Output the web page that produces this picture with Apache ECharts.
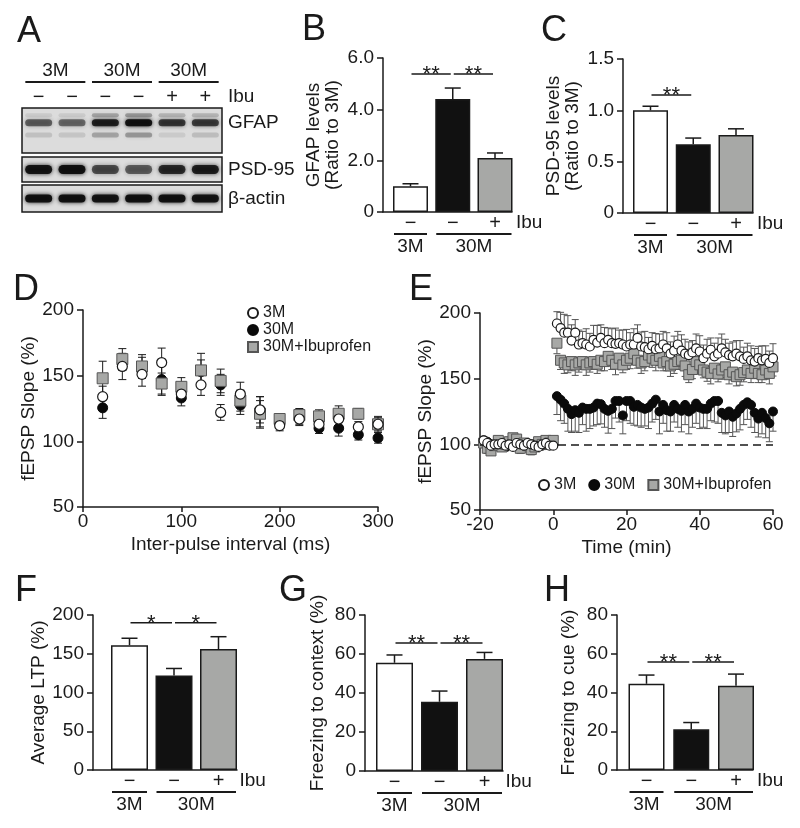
<!DOCTYPE html>
<html><head><meta charset="utf-8">
<script src="https://cdn.jsdelivr.net/npm/echarts@6/dist/echarts.min.js"></script>
<style>html,body{margin:0;padding:0;background:#fff}#c{width:800px;height:828px}</style>
</head><body><div id="c"></div>
<script>
// ================= DATA =================
// Bar panels (categories: 3M, 30M, 30M+Ibu)
const barGroups = ['3M', '30M'];
const ibuSigns = ['−', '−', '+'];
const gfapMean = [1.0, 4.4, 2.1];
const gfapSem  = [0.1, 0.43, 0.2];
const psdMean  = [1.0, 0.67, 0.76];
const psdSem   = [0.04, 0.06, 0.06];
const ltpMean  = [161, 122, 156];
const ltpSem   = [9, 9, 16];
const ctxMean  = [55.5, 35.5, 57.5];
const ctxSem   = [4, 5.5, 3.3];
const cueMean  = [44.5, 21, 43.5];
const cueSem   = [4.5, 3.5, 6];

// Western blot (6 lanes) band intensities
const lanes = ['3M-a', '3M-b', '30M-a', '30M-b', '30M+Ibu-a', '30M+Ibu-b'];
const laneGroups = ['3M', '30M', '30M'];
const laneSigns = ['−', '−', '−', '−', '+', '+'];
const gfapMainBand  = [0.55, 0.5, 0.85, 0.95, 0.72, 0.7];
const gfapUpperBand = [0.08, 0.08, 0.25, 0.3, 0.18, 0.18];
const gfapLowerBand = [0.12, 0.1, 0.25, 0.3, 0.08, 0.14];
const psd95Band = [0.92, 0.95, 0.62, 0.55, 0.78, 0.85];
const actinBand = [0.95, 0.95, 0.92, 0.95, 0.95, 0.92];

// Panel D: paired-pulse facilitation
const dInterval = [20, 40, 60, 80, 100, 120, 140, 160, 180, 200, 220, 240, 260, 280, 300];
const d3M     = [134, 157, 151, 160, 136, 143, 122, 136, 124, 112, 117, 113, 117, 111, 113];
const d3MErr  = [8, 10, 9, 11, 5, 8, 6, 9, 10, 4, 5, 5, 5, 4, 6];
const d30M    = [125.5, 160, 156, 147, 133, 153, 143, 127.5, 122, 114, 118, 110, 110, 105, 102.6];
const d30MErr = [8, 6, 8, 12, 6, 9, 8, 7, 12, 4, 5, 4, 6, 4, 4];
const dIbu    = [148, 162.6, 157, 144, 141.5, 154, 146, 131, 121, 117, 120, 119, 121, 121, 113];
const dIbuErr = [13, 8, 9, 8, 7, 13, 9, 8, 10, 4, 5, 5, 6, 4, 5];

// Panel E: LTP time course
const eTime = [-19,-18,-17,-16,-15,-14,-13,-12,-11,-10,-9,-8,-7,-6,-5,-4,-3,-2,-1,0,
  1,2,3,4,5,6,7,8,9,10,11,12,13,14,15,16,17,18,19,20,21,22,23,24,25,26,27,28,29,30,
  31,32,33,34,35,36,37,38,39,40,41,42,43,44,45,46,47,48,49,50,51,52,53,54,55,56,57,58,59,60];
const e3M = [103,101,99,100,100,101,99,100,98,101,100,99,101,100,99,98,100,101,99,99,
  192,188.5,185,185,179,185,176,177,176,174.5,179.6,177.5,181,177,179.6,177,176.5,177,176,174.5,
  176,176,181,174.5,174,172.4,175,172.4,173,176,173,169,171.4,176,171.4,169,168,170,173,170.7,
  165.6,169,172,167,169,173,170,168,167,169,167,165,167,164,163,165.6,164,165,162,165.6];
const e3MErr = [3,3,2,3,3,2,3,3,2,3,3,3,2,3,3,2,3,3,2,3,
  9,12,14,13,12,10,11,9,12,10,11,13,10,12,9,11,12,10,11,13,
  9,12,10,11,12,9,10,12,11,10,12,9,11,10,12,11,10,9,11,12,
  10,11,9,10,12,11,10,9,11,10,12,9,10,11,10,9,11,10,9,11];
const e30M = [103,102,100,99,101,100,98,100,101,100,99,101,99,100,100,101,99,100,101,100,
  136.7,134,131,127,123,126,124,128,127,127,128,131,130.6,127,125.5,127,133,133,122,133,
  133,128.6,130,128,127,128,131,134,125,130,126,125,130,127,125.5,130,125,127,131,128,
  127,127,131,133,133,124,122,125,121,123.5,127,130,132,130,124,119.6,124,120,116,125];
const e30MErr = [3,2,3,3,2,3,3,2,3,3,2,3,3,2,3,3,2,3,3,2,
  14,16,15,17,14,16,15,13,17,15,14,16,15,14,17,15,13,16,14,15,
  17,14,16,15,13,16,14,15,17,14,16,15,13,14,16,15,17,14,15,16,
  14,15,13,16,17,15,14,16,15,14,16,15,13,17,15,14,16,15,14,15];
const eIbu = [101,97,95,99,103,98,100,102,105,104,97,101,99,96,98,102,100,103,101,103,
  177,164,162,160.5,163,160.5,162,163,160.5,162,163,161,164,163,167,164,161,165.6,160.5,164,
  165.6,169,164,162,163,168,165.6,164,167,162,163,159.7,161,163,164,159.7,153,157,163,160.5,
  156.6,155,154,158,153.6,156.6,159,153,155,151.5,153,154.6,156.6,154,158,154,153,156.6,154,159];
const eIbuErr = [3,4,3,3,4,3,3,4,3,3,4,3,3,4,3,3,4,3,3,4,
  8,7,8,6,7,8,7,6,8,7,6,7,8,7,6,7,8,7,6,7,
  8,7,6,8,7,6,7,8,7,6,7,8,7,6,7,8,6,7,8,7,
  6,7,8,7,6,7,8,7,6,7,8,7,6,7,8,7,6,7,8,7];

// ================= STYLE / LAYOUT =================
const FONT = "'Liberation Sans', Arial, Helvetica, sans-serif";
const INK = '#1a1a1a';
const GREY = '#a7a8a6';
const BAR_COLORS = ['#ffffff', '#111111', GREY];
const FS = 19;

const grids = [], xAxes = [], yAxes = [], series = [];

function axisLineStyle() { return { show: true, onZero: false, lineStyle: { color: INK, width: 1.5 } }; }
function txt(text, x, y, align, vAlign, size) {
  return { type: 'text', style: { text, x, y, align, verticalAlign: vAlign, textAlign: align, textVerticalAlign: vAlign,
    font: (size || FS) + 'px ' + FONT, fill: INK } };
}

function addBarPanel(p) {
  const gi = grids.length;
  grids.push({ left: p.axisX, top: p.top, width: p.end - p.axisX, height: p.bottom - p.top });
  xAxes.push({ gridIndex: gi, type: 'value', min: -(p.c0 - p.axisX) / p.step, max: (p.end - p.c0) / p.step,
    axisLine: axisLineStyle(), axisTick: { show: false }, axisLabel: { show: false }, splitLine: { show: false } });
  yAxes.push({ gridIndex: gi, type: 'value', min: 0, max: p.max, interval: p.interval,
    axisLine: axisLineStyle(), axisTick: { show: true, length: 6, lineStyle: { color: INK, width: 1.5 } },
    axisLabel: { fontSize: FS, color: INK, fontFamily: FONT, margin: 9, formatter: p.fmt },
    splitLine: { show: false }, name: p.name, nameLocation: 'middle', nameRotate: 90, nameGap: p.nameGap,
    nameTextStyle: { fontSize: FS, color: INK, fontFamily: FONT, lineHeight: 19 } });
  const ax = { xAxisIndex: gi, yAxisIndex: gi, silent: true };
  series.push(Object.assign({ type: 'bar', barWidth: p.barW, z: 2,
    data: p.mean.map((v, i) => ({ value: [i, v], itemStyle: { color: BAR_COLORS[i] } })),
    itemStyle: { borderColor: INK, borderWidth: 1.5 } }, ax));
  // error bars (upper)
  series.push(Object.assign({ type: 'custom', z: 3,
    data: p.mean.map((v, i) => [i, v, v + p.sem[i]]),
    renderItem: (params, api) => {
      const a = api.coord([api.value(0), api.value(1)]), b = api.coord([api.value(0), api.value(2)]);
      return { type: 'group', children: [
        { type: 'line', shape: { x1: a[0], y1: a[1], x2: b[0], y2: b[1] }, style: { stroke: INK, lineWidth: 1.5 } },
        { type: 'line', shape: { x1: b[0] - 8, y1: b[1], x2: b[0] + 8, y2: b[1] }, style: { stroke: INK, lineWidth: 1.5 } }] };
    } }, ax));
  // significance
  series.push(Object.assign({ type: 'custom', z: 3,
    data: p.sig.map(s => s.slice(0, 3)),
    renderItem: (params, api) => {
      const a = api.coord([api.value(0), api.value(2)]), b = api.coord([api.value(1), api.value(2)]);
      const x1 = a[0] + 1, x2 = b[0] - 2;
      return { type: 'group', children: [
        { type: 'line', shape: { x1, y1: a[1], x2, y2: a[1] }, style: { stroke: INK, lineWidth: 1.5 } },
        txt(p.sig[params.dataIndex][3], (x1 + x2) / 2, a[1] + 1, 'center', 'middle', 22)] };
    } }, ax));
  // treatment signs
  series.push(Object.assign({ type: 'custom', z: 3,
    data: ibuSigns.map((s, i) => [i]),
    renderItem: (params, api) => {
      const c = api.coord([api.value(0), 0]);
      const kids = [txt(ibuSigns[params.dataIndex], c[0], c[1] + 11, 'center', 'middle', 20)];
      if (params.dataIndex === ibuSigns.length - 1) kids.push(txt('Ibu', c[0] + 21, c[1] + 11, 'left', 'middle', FS));
      return { type: 'group', children: kids };
    } }, ax));
  // group underlines
  series.push(Object.assign({ type: 'custom', z: 3,
    data: [[0, 0], [1, 2]],
    renderItem: (params, api) => {
      const a = api.coord([api.value(0), 0]), b = api.coord([api.value(1), 0]);
      const y = a[1] + 22, hw = p.barW / 2 - 1;
      return { type: 'group', children: [
        { type: 'line', shape: { x1: a[0] - hw, y1: y, x2: b[0] + hw, y2: y }, style: { stroke: INK, lineWidth: 1.8 } },
        txt(barGroups[params.dataIndex], (a[0] + b[0]) / 2, y + 13, 'center', 'middle', FS)] };
    } }, ax));
}

const fmt1 = v => (v === 0 ? '0' : v.toFixed(1));
addBarPanel({ axisX: 383, end: 512, c0: 410.5, step: 42.25, top: 58, bottom: 212, barW: 35, max: 6, interval: 2, fmt: fmt1,
  mean: gfapMean, sem: gfapSem, sig: [[0, 1, 5.38, '**'], [1, 2, 5.38, '**']], name: 'GFAP levels\n(Ratio to 3M)', nameGap: 41 });
addBarPanel({ axisX: 623, end: 753, c0: 650.5, step: 42.75, top: 59, bottom: 213, barW: 35, max: 1.5, interval: 0.5, fmt: fmt1,
  mean: psdMean, sem: psdSem, sig: [[0, 1, 1.15, '**']], name: 'PSD-95 levels\n(Ratio to 3M)', nameGap: 41 });
addBarPanel({ axisX: 93, end: 237, c0: 129.5, step: 44.5, top: 615, bottom: 770, barW: 37, max: 200, interval: 50,
  mean: ltpMean, sem: ltpSem, sig: [[0, 1, 190, '*'], [1, 2, 190, '*']], name: 'Average LTP (%)', nameGap: 41 });
addBarPanel({ axisX: 365, end: 503, c0: 394.5, step: 45, top: 615, bottom: 771, barW: 37, max: 80, interval: 20,
  mean: ctxMean, sem: ctxSem, sig: [[0, 1, 65.6, '**'], [1, 2, 65.6, '**']], name: 'Freezing to context (%)', nameGap: 38 });
addBarPanel({ axisX: 617, end: 753, c0: 646.5, step: 44.75, top: 615, bottom: 770, barW: 36, max: 80, interval: 20,
  mean: cueMean, sem: cueSem, sig: [[0, 1, 55.7, '**'], [1, 2, 55.7, '**']], name: 'Freezing to cue (%)', nameGap: 39 });

// ----- Blot strips -----
function addBlot(p) {
  const gi = grids.length;
  grids.push({ left: 22, top: p.top, width: 200, height: p.h, show: true, backgroundColor: '#dcdcdc', borderColor: INK, borderWidth: 1.5 });
  xAxes.push({ gridIndex: gi, type: 'category', data: lanes, show: false });
  yAxes.push({ gridIndex: gi, type: 'value', min: 0, max: 1, show: false });
  const ax = { xAxisIndex: gi, yAxisIndex: gi, silent: true };
  p.bands.forEach(bd => {
    series.push(Object.assign({ type: 'custom', z: 2,
      data: bd.vals.map((v, i) => [i, bd.y, v]),
      renderItem: (params, api) => {
        const c = api.coord([api.value(0), api.value(1)]);
        const op = api.value(2), w = 27, h = bd.h;
        const kids = [{ type: 'rect', shape: { x: c[0] - w / 2, y: c[1] - h / 2, width: w, height: h, r: h / 2 },
          style: { fill: 'rgba(12,12,12,' + op + ')', shadowBlur: 4, shadowColor: 'rgba(12,12,12,' + op + ')' } }];
        if (bd.label && params.dataIndex === lanes.length - 1) kids.push(txt(bd.label, 228, c[1], 'left', 'middle', FS));
        return { type: 'group', children: kids };
      } }, ax));
  });
  if (p.header) {
    series.push(Object.assign({ type: 'custom', z: 3,
      data: [[0, 1], [2, 3], [4, 5]],
      renderItem: (params, api) => {
        const a = api.coord([api.value(0), 1]), b = api.coord([api.value(1), 1]);
        const m = (a[0] + b[0]) / 2, y = a[1] - 26;
        return { type: 'group', children: [
          { type: 'line', shape: { x1: m - 30, y1: y, x2: m + 30, y2: y }, style: { stroke: INK, lineWidth: 1.8 } },
          txt(laneGroups[params.dataIndex], m, y - 11, 'center', 'middle', FS)] };
      } }, ax));
    series.push(Object.assign({ type: 'custom', z: 3,
      data: laneSigns.map((s, i) => [i]),
      renderItem: (params, api) => {
        const c = api.coord([api.value(0), 1]);
        const kids = [txt(laneSigns[params.dataIndex], c[0], c[1] - 11, 'center', 'middle', 20)];
        if (params.dataIndex === lanes.length - 1) kids.push(txt('Ibu', 228, c[1] - 11, 'left', 'middle', FS));
        return { type: 'group', children: kids };
      } }, ax));
  }
}
addBlot({ top: 108, h: 45, header: true, bands: [
  { vals: gfapUpperBand, y: 0.84, h: 4 },
  { vals: gfapLowerBand, y: 0.4, h: 5 },
  { vals: gfapMainBand, y: 0.67, h: 7, label: 'GFAP' }] });
addBlot({ top: 157, h: 25, bands: [{ vals: psd95Band, y: 0.5, h: 9, label: 'PSD-95' }] });
addBlot({ top: 185, h: 27, bands: [{ vals: actinBand, y: 0.5, h: 8, label: 'β-actin' }] });

// ----- Scatter panels -----
const SYM = {
  '3M': { symbol: 'circle', itemStyle: { color: '#ffffff', borderColor: INK, borderWidth: 1.2, opacity: 1 } },
  '30M': { symbol: 'circle', itemStyle: { color: '#0a0a0a', borderColor: '#0a0a0a', borderWidth: 1, opacity: 1 } },
  '30M+Ibuprofen': { symbol: 'rect', itemStyle: { color: GREY, borderColor: '#555', borderWidth: 1, opacity: 1 } }
};
function addScatterPanel(p) {
  const gi = grids.length;
  grids.push({ left: p.left, top: p.top, width: p.width, height: p.height });
  xAxes.push({ gridIndex: gi, type: 'value', min: p.xmin, max: p.xmax, interval: p.xint,
    axisLine: axisLineStyle(), axisTick: { show: true, length: 5, lineStyle: { color: INK, width: 1.5 } },
    axisLabel: { fontSize: FS, color: INK, fontFamily: FONT, margin: 5 }, splitLine: { show: false },
    name: p.xname, nameLocation: 'middle', nameGap: 28, nameTextStyle: { fontSize: FS, color: INK, fontFamily: FONT } });
  yAxes.push({ gridIndex: gi, type: 'value', min: 50, max: 200, interval: 50,
    axisLine: axisLineStyle(), axisTick: { show: true, length: 6, lineStyle: { color: INK, width: 1.5 } },
    axisLabel: { fontSize: FS, color: INK, fontFamily: FONT, margin: 9 }, splitLine: { show: false },
    name: 'fEPSP Slope (%)', nameLocation: 'middle', nameRotate: 90, nameGap: 45,
    nameTextStyle: { fontSize: FS, color: INK, fontFamily: FONT } });
  const ax = { xAxisIndex: gi, yAxisIndex: gi, silent: true };
  p.sets.forEach((s, k) => {
    series.push(Object.assign({ type: 'custom', z: 2,
      data: p.x.map((x, i) => [x, s.v[i], s.v[i] + (s.dir >= 0 ? s.e[i] : 0), s.v[i] - (s.dir <= 0 ? s.e[i] : 0)]),
      renderItem: (params, api) => {
        const hi = api.coord([api.value(0), api.value(2)]), lo = api.coord([api.value(0), api.value(3)]);
        const kids = [{ type: 'line', shape: { x1: hi[0], y1: hi[1], x2: lo[0], y2: lo[1] }, style: { stroke: p.errColor, lineWidth: 1 } }];
        if (s.dir >= 0) kids.push({ type: 'line', shape: { x1: hi[0] - p.cap, y1: hi[1], x2: hi[0] + p.cap, y2: hi[1] }, style: { stroke: p.errColor, lineWidth: 1 } });
        if (s.dir <= 0) kids.push({ type: 'line', shape: { x1: lo[0] - p.cap, y1: lo[1], x2: lo[0] + p.cap, y2: lo[1] }, style: { stroke: p.errColor, lineWidth: 1 } });
        return { type: 'group', children: kids };
      } }, ax));
  });
  p.sets.forEach((s, k) => {
    const st = SYM[s.name];
    const ser = Object.assign({ type: 'scatter', name: s.name, z: 3 + s.order, symbol: st.symbol,
      symbolSize: s.name === '30M+Ibuprofen' ? p.size + 1 : p.size, itemStyle: st.itemStyle,
      data: p.x.map((x, i) => [x, s.v[i]]) }, ax);
    if (p.dashed && k === 0) ser.markLine = { silent: true, symbol: ['none', 'none'], label: { show: false },
      lineStyle: { type: [8, 5], color: INK, width: 1.5 }, data: [{ yAxis: 100 }] };
    series.push(ser);
  });
}
addScatterPanel({ left: 83, top: 310, width: 295, height: 197, xmin: 0, xmax: 300, xint: 100,
  xname: 'Inter-pulse interval (ms)', x: dInterval, size: 10, cap: 4, errColor: INK, sets: [
    { name: '30M', v: d30M, e: d30MErr, dir: 0, order: 0 },
    { name: '30M+Ibuprofen', v: dIbu, e: dIbuErr, dir: 0, order: 1 },
    { name: '3M', v: d3M, e: d3MErr, dir: 0, order: 2 }] });
addScatterPanel({ left: 480, top: 313, width: 293, height: 197, xmin: -20, xmax: 60, xint: 20,
  xname: 'Time (min)', x: eTime, size: 9, cap: 3.5, errColor: '#555', dashed: true, sets: [
    { name: '30M', v: e30M, e: e30MErr, dir: -1, order: 0 },
    { name: '30M+Ibuprofen', v: eIbu, e: eIbuErr, dir: -1, order: 1 },
    { name: '3M', v: e3M, e: e3MErr, dir: 1, order: 2 }] });

// ----- panel letters -----
const letterPos = [['A', 29, 32], ['B', 314, 30], ['C', 554, 31], ['D', 26, 290], ['E', 421, 290], ['F', 26, 591], ['G', 293, 591], ['H', 557, 591]];
const graphics = letterPos.map(l => ({ type: 'text', x: l[1], y: l[2],
  style: { text: l[0], font: '36px ' + FONT, fill: INK, textAlign: 'center', textVerticalAlign: 'middle', align: 'center', verticalAlign: 'middle' } }));

const legendText = { fontSize: 16, color: INK, fontFamily: FONT };
const chart = echarts.init(document.getElementById('c'), null, { renderer: 'canvas' });
chart.setOption({
  animation: false,
  backgroundColor: '#ffffff',
  textStyle: { fontFamily: FONT },
  grid: grids, xAxis: xAxes, yAxis: yAxes, series,
  legend: [
    { left: 242, top: 300, orient: 'vertical', itemGap: 1, itemWidth: 10, itemHeight: 10, selectedMode: false,
      textStyle: legendText, data: ['3M', '30M', '30M+Ibuprofen'] },
    { left: 533, top: 472, orient: 'horizontal', itemGap: 12, itemWidth: 10, itemHeight: 10, selectedMode: false,
      textStyle: legendText, data: ['3M', '30M', '30M+Ibuprofen'] }],
  graphic: graphics
});
</script></body></html>
